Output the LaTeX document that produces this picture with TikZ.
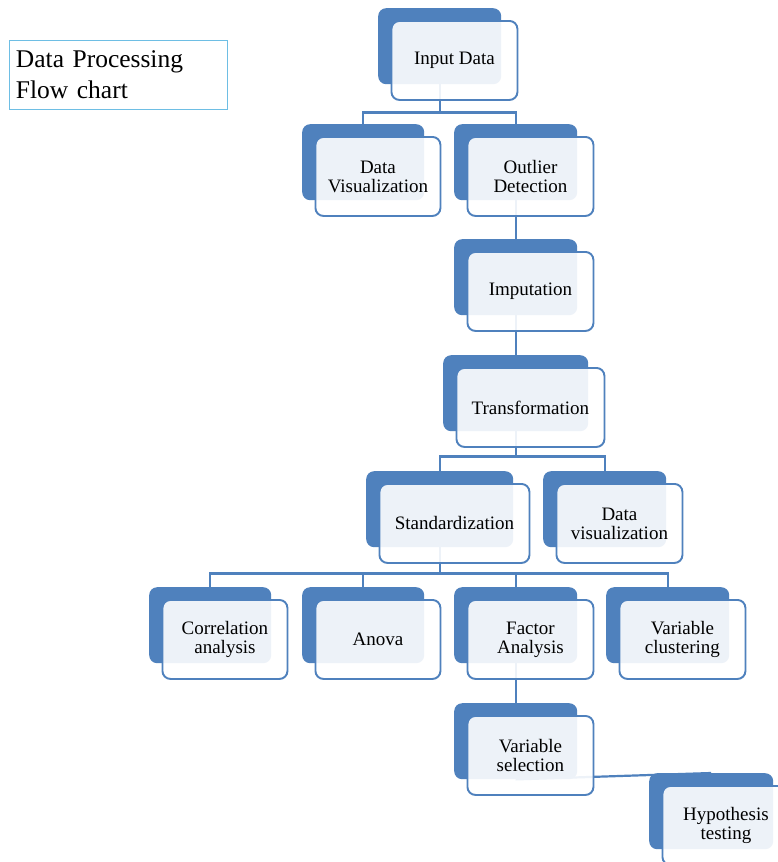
\documentclass[tikz,border=0pt]{standalone}
\usepackage{fontspec}
\setmainfont{Liberation Serif}
\usetikzlibrary{calc}

\definecolor{accent}{RGB}{79,129,189}
\definecolor{framecyan}{RGB}{110,190,228}

\tikzset{
  backbox/.style={fill=accent, rounded corners=8pt, minimum height=76pt,
    inner sep=0pt, anchor=north west},
  frontbox/.style={draw=accent, line width=1.9pt, fill=white, fill opacity=0.9,
    text opacity=1, rounded corners=8pt, minimum height=79pt, inner sep=0pt,
    align=center, font=\fontsize{19}{19}\selectfont, anchor=north west},
  link/.style={draw=accent, line width=2.2pt},
  titlebox/.style={draw=framecyan, line width=0.9pt, anchor=north west,
    minimum width=218pt, minimum height=69pt, inner xsep=6.5pt, inner ysep=0pt,
    text width=205pt, align=left, font=\fontsize{25.5}{31}\selectfont},
}

\begin{document}
\begin{tikzpicture}[x=1pt, y=-1pt]
  \useasboundingbox (0,0) rectangle (778,862);
  \fill[white] (0,0) rectangle (778,862);
  \clip (0,0) rectangle (778,862);

  % title
  \node[titlebox] (title) at (9,40) {Data Processing\\Flow chart};

  % solid back plates
  \node[backbox, minimum width=123pt] (input-b)   at (378,8)   {};
  \node[backbox, minimum width=122pt] (dvis-b)    at (302,124) {};
  \node[backbox, minimum width=123pt] (outlier-b) at (454,124) {};
  \node[backbox, minimum width=123pt] (imput-b)   at (454,239) {};
  \node[backbox, minimum width=145pt] (transf-b)  at (443,355) {};
  \node[backbox, minimum width=147pt] (stand-b)   at (366,471) {};
  \node[backbox, minimum width=123pt] (dvis2-b)   at (543,471) {};
  \node[backbox, minimum width=122pt] (corr-b)    at (149,587) {};
  \node[backbox, minimum width=122pt] (anova-b)   at (302,587) {};
  \node[backbox, minimum width=123pt] (factor-b)  at (454,587) {};
  \node[backbox, minimum width=123pt] (varclus-b) at (606,587) {};
  \node[backbox, minimum width=123pt] (varsel-b)  at (454,703) {};
  \node[backbox, minimum width=124pt] (hypo-b)    at (649,773) {};

  % connectors
  \draw[link] (input-b.south) -- ++(0,28) coordinate (j1);
  \draw[link] (j1) -| (dvis-b.north);
  \draw[link] (j1) -| (outlier-b.north);
  \draw[link] (outlier-b.south) -- (imput-b.north);
  \draw[link] (imput-b.south) -- (transf-b.north);
  \draw[link] (transf-b.south) -- ++(0,25) coordinate (j2);
  \draw[link] (j2) -| (stand-b.north);
  \draw[link] (j2) -| (dvis2-b.north);
  \draw[link] (stand-b.south) -- ++(0,26) coordinate (j3);
  \draw[link] (j3) -| (corr-b.north);
  \draw[link] (j3) -| (anova-b.north);
  \draw[link] (j3) -| (factor-b.north);
  \draw[link] (j3) -| (varclus-b.north);
  \draw[link] (factor-b.south) -- (varsel-b.north);
  \draw[link] (varsel-b.south) -- (hypo-b.north);

  % text cards
  \node[frontbox, minimum width=126pt] (input)   at (390.5,20)  {Input Data};
  \node[frontbox, minimum width=125pt] (dvis)    at (314.5,136) {Data\\Visualization};
  \node[frontbox, minimum width=126pt] (outlier) at (466.5,136) {Outlier\\Detection};
  \node[frontbox, minimum width=126pt] (imput)   at (466.5,251) {Imputation};
  \node[frontbox, minimum width=148pt] (transf)  at (455.5,367) {Transformation};
  \node[frontbox, minimum width=150pt] (stand)   at (378.5,483) {Standardization};
  \node[frontbox, minimum width=126pt] (dvis2)   at (555.5,483) {Data\\visualization};
  \node[frontbox, minimum width=125pt] (corr)    at (161.5,599) {Correlation\\analysis};
  \node[frontbox, minimum width=125pt] (anova)   at (314.5,599) {Anova};
  \node[frontbox, minimum width=126pt] (factor)  at (466.5,599) {Factor\\Analysis};
  \node[frontbox, minimum width=126pt] (varclus) at (618.5,599) {Variable\\clustering};
  \node[frontbox, minimum width=126pt] (varsel)  at (466.5,715) {Variable\\selection};
  \node[frontbox, minimum width=127pt] (hypo)    at (661.5,785) {Hypothesis\\testing};
\end{tikzpicture}
\end{document}
